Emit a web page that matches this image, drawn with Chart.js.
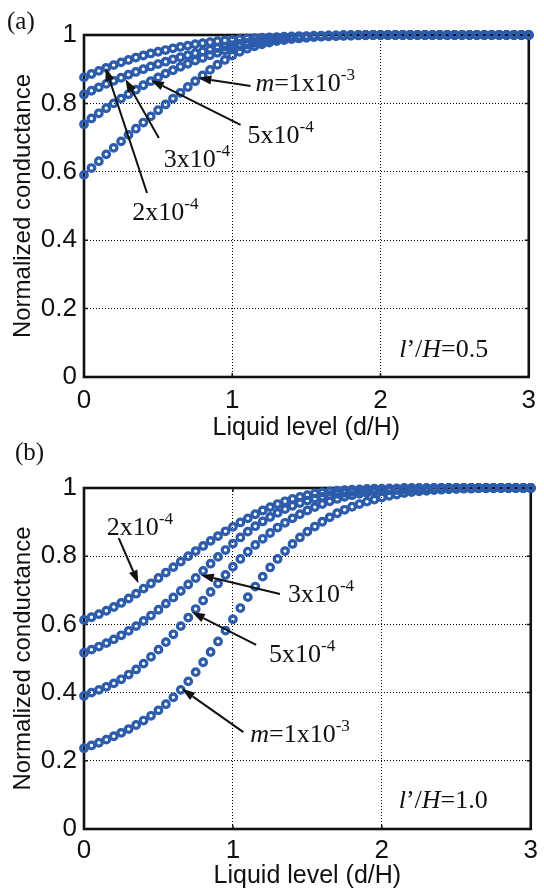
<!DOCTYPE html>
<html>
<head>
<meta charset="utf-8">
<script src="https://cdn.jsdelivr.net/npm/chart.js@4/dist/chart.umd.min.js"></script>
<style>
  html, body { margin: 0; padding: 0; background: #fff; }
  .wrap { position: relative; width: 544px; height: 894px; }
  #chartA { position: absolute; left: 0; top: 0; }
  #chartB { position: absolute; left: 0; top: 440px; }
</style>
</head>
<body>
<div class="wrap">
<canvas id="chartA" width="544" height="450"></canvas>
<canvas id="chartB" width="544" height="454"></canvas>
</div>
<script>
// Liquid level d/H, one point every 0.05
const XS = [
  0.00, 0.05, 0.10, 0.15, 0.20, 0.25, 0.30, 0.35, 0.40, 0.45,
  0.50, 0.55, 0.60, 0.65, 0.70, 0.75, 0.80, 0.85, 0.90, 0.95,
  1.00, 1.05, 1.10, 1.15, 1.20, 1.25, 1.30, 1.35, 1.40, 1.45,
  1.50, 1.55, 1.60, 1.65, 1.70, 1.75, 1.80, 1.85, 1.90, 1.95,
  2.00, 2.05, 2.10, 2.15, 2.20, 2.25, 2.30, 2.35, 2.40, 2.45,
  2.50, 2.55, 2.60, 2.65, 2.70, 2.75, 2.80, 2.85, 2.90, 2.95,
  3.00
];

// (a) l'/H = 0.5
const A_M2E4 = [
  0.876, 0.886, 0.895, 0.904, 0.912, 0.920, 0.927, 0.934, 0.940, 0.946,
  0.951, 0.956, 0.961, 0.965, 0.969, 0.973, 0.976, 0.979, 0.982, 0.984,
  0.986, 0.988, 0.990, 0.991, 0.992, 0.993, 0.994, 0.995, 0.996, 0.997,
  0.997, 0.998, 0.998, 0.999, 0.999, 1.000, 1.000, 1.000, 1.000, 1.000,
  1.000, 1.000, 1.000, 1.000, 1.000, 1.000, 1.000, 1.000, 1.000, 1.000,
  1.000, 1.000, 1.000, 1.000, 1.000, 1.000, 1.000, 1.000, 1.000, 1.000,
  1.000
];
const A_M3E4 = [
  0.826, 0.837, 0.847, 0.857, 0.866, 0.875, 0.884, 0.892, 0.900, 0.908,
  0.915, 0.922, 0.929, 0.935, 0.941, 0.947, 0.952, 0.957, 0.962, 0.966,
  0.970, 0.974, 0.977, 0.980, 0.983, 0.986, 0.988, 0.990, 0.992, 0.993,
  0.994, 0.995, 0.996, 0.997, 0.998, 0.998, 0.999, 0.999, 1.000, 1.000,
  1.000, 1.000, 1.000, 1.000, 1.000, 1.000, 1.000, 1.000, 1.000, 1.000,
  1.000, 1.000, 1.000, 1.000, 1.000, 1.000, 1.000, 1.000, 1.000, 1.000,
  1.000
];
const A_M5E4 = [
  0.739, 0.756, 0.771, 0.786, 0.800, 0.814, 0.827, 0.840, 0.853, 0.865,
  0.876, 0.887, 0.897, 0.907, 0.916, 0.925, 0.933, 0.941, 0.948, 0.955,
  0.961, 0.967, 0.972, 0.977, 0.981, 0.985, 0.988, 0.990, 0.992, 0.994,
  0.995, 0.996, 0.997, 0.998, 0.998, 0.999, 0.999, 1.000, 1.000, 1.000,
  1.000, 1.000, 1.000, 1.000, 1.000, 1.000, 1.000, 1.000, 1.000, 1.000,
  1.000, 1.000, 1.000, 1.000, 1.000, 1.000, 1.000, 1.000, 1.000, 1.000,
  1.000
];
const A_M1E3 = [
  0.591, 0.611, 0.631, 0.651, 0.670, 0.689, 0.708, 0.726, 0.744, 0.762,
  0.780, 0.797, 0.814, 0.831, 0.848, 0.865, 0.882, 0.898, 0.913, 0.927,
  0.940, 0.951, 0.960, 0.967, 0.973, 0.978, 0.982, 0.985, 0.988, 0.990,
  0.992, 0.994, 0.995, 0.996, 0.997, 0.998, 0.998, 0.999, 0.999, 1.000,
  1.000, 1.000, 1.000, 1.000, 1.000, 1.000, 1.000, 1.000, 1.000, 1.000,
  1.000, 1.000, 1.000, 1.000, 1.000, 1.000, 1.000, 1.000, 1.000, 1.000,
  1.000
];

// (b) l'/H = 1.0
const B_M2E4 = [
  0.613, 0.621, 0.630, 0.640, 0.651, 0.663, 0.676, 0.690, 0.705, 0.720,
  0.736, 0.752, 0.768, 0.784, 0.800, 0.815, 0.830, 0.845, 0.859, 0.873,
  0.886, 0.899, 0.911, 0.923, 0.934, 0.944, 0.953, 0.961, 0.968, 0.974,
  0.979, 0.984, 0.987, 0.990, 0.992, 0.994, 0.995, 0.996, 0.997, 0.998,
  0.998, 0.999, 0.999, 1.000, 1.000, 1.000, 1.000, 1.000, 1.000, 1.000,
  1.000, 1.000, 1.000, 1.000, 1.000, 1.000, 1.000, 1.000, 1.000, 1.000,
  1.000
];
const B_M3E4 = [
  0.517, 0.526, 0.535, 0.545, 0.556, 0.568, 0.581, 0.595, 0.610, 0.626,
  0.643, 0.661, 0.679, 0.698, 0.717, 0.736, 0.757, 0.778, 0.798, 0.818,
  0.837, 0.855, 0.872, 0.888, 0.902, 0.915, 0.927, 0.938, 0.948, 0.956,
  0.963, 0.969, 0.974, 0.979, 0.983, 0.986, 0.989, 0.991, 0.993, 0.994,
  0.995, 0.996, 0.997, 0.998, 0.998, 0.999, 0.999, 1.000, 1.000, 1.000,
  1.000, 1.000, 1.000, 1.000, 1.000, 1.000, 1.000, 1.000, 1.000, 1.000,
  1.000
];
const B_M5E4 = [
  0.390, 0.400, 0.408, 0.417, 0.427, 0.439, 0.453, 0.468, 0.485, 0.505,
  0.526, 0.548, 0.571, 0.595, 0.620, 0.645, 0.670, 0.695, 0.720, 0.745,
  0.769, 0.792, 0.813, 0.833, 0.851, 0.868, 0.884, 0.898, 0.911, 0.923,
  0.934, 0.944, 0.953, 0.961, 0.968, 0.974, 0.979, 0.983, 0.986, 0.989,
  0.991, 0.993, 0.994, 0.995, 0.996, 0.997, 0.998, 0.998, 0.999, 0.999,
  1.000, 1.000, 1.000, 1.000, 1.000, 1.000, 1.000, 1.000, 1.000, 1.000,
  1.000
];
const B_M1E3 = [
  0.237, 0.245, 0.253, 0.262, 0.272, 0.282, 0.293, 0.305, 0.318, 0.332,
  0.348, 0.366, 0.386, 0.408, 0.433, 0.460, 0.489, 0.519, 0.550, 0.582,
  0.615, 0.648, 0.680, 0.711, 0.740, 0.767, 0.792, 0.815, 0.836, 0.855,
  0.872, 0.887, 0.901, 0.914, 0.926, 0.936, 0.945, 0.953, 0.960, 0.966,
  0.972, 0.977, 0.981, 0.985, 0.988, 0.990, 0.992, 0.994, 0.995, 0.996,
  0.997, 0.998, 0.998, 0.999, 0.999, 1.000, 1.000, 1.000, 1.000, 1.000,
  1.000
];

const X_TICKS_STEP = 1;
const Y_TICKS_STEP = 0.2;
const X_TITLE = 'Liquid level (d/H)';
const Y_TITLE = 'Normalized conductance';

const BLUE = '#2c5cab';
const INK = '#111';
const SANS = '"Liberation Sans", Arial, sans-serif';
const SERIF = '"Liberation Serif", "Times New Roman", serif';

// annotations, in data coordinates; parts: [text, style] with i = italic, s = superscript
const DECOR = {
  chartA: {
    panel: { text: '(a)', x: 7, y: 29 },
    labels: [
      { parts: [['m', 'i'], ['=1x10', ''], ['-3', 's']], x: 1.156, y: 0.836 },
      { parts: [['5x10', ''], ['-4', 's']], x: 1.103, y: 0.684 },
      { parts: [['3x10', ''], ['-4', 's']], x: 0.538, y: 0.614 },
      { parts: [['2x10', ''], ['-4', 's']], x: 0.326, y: 0.459 },
      { parts: [['l', 'i'], ['\u2019/', ''], ['H', 'i'], ['=0.5', '']], x: 2.126, y: 0.058 },
    ],
    arrows: [
      [1.123, 0.851, 0.771, 0.874],
      [1.056, 0.737, 0.452, 0.868],
      [0.505, 0.699, 0.279, 0.871],
      [0.425, 0.538, 0.146, 0.904],
    ],
  },
  chartB: {
    panel: { text: '(b)', x: 15, y: 20 },
    labels: [
      { parts: [['2x10', ''], ['-4', 's']], x: 0.153, y: 0.862 },
      { parts: [['3x10', ''], ['-4', 's']], x: 1.369, y: 0.666 },
      { parts: [['5x10', ''], ['-4', 's']], x: 1.243, y: 0.490 },
      { parts: [['m', 'i'], ['=1x10', ''], ['-3', 's']], x: 1.116, y: 0.255 },
      { parts: [['l', 'i'], ['\u2019/', ''], ['H', 'i'], ['=1.0', '']], x: 2.113, y: 0.062 },
    ],
    arrows: [
      [0.233, 0.853, 0.365, 0.721],
      [1.316, 0.689, 0.784, 0.745],
      [1.156, 0.540, 0.724, 0.636],
      [1.070, 0.284, 0.658, 0.411],
    ],
  },
};

function drawRich(ctx, parts, x, y, size) {
  let cx = x;
  ctx.textBaseline = 'alphabetic';
  ctx.textAlign = 'left';
  parts.forEach(([t, s]) => {
    const fs = s === 's' ? size * 0.66 : size;
    ctx.font = `${s === 'i' ? 'italic ' : ''}${fs}px ${SERIF}`;
    ctx.fillText(t, cx, s === 's' ? y - size * 0.42 : y);
    cx += ctx.measureText(t).width;
  });
}

function drawArrow(ctx, x1, y1, x2, y2) {
  const ang = Math.atan2(y2 - y1, x2 - x1);
  const len = 13, half = 4.5;
  const bx = x2 - len * Math.cos(ang), by = y2 - len * Math.sin(ang);
  ctx.lineWidth = 2;
  ctx.beginPath();
  ctx.moveTo(x1, y1);
  ctx.lineTo(bx, by);
  ctx.stroke();
  ctx.beginPath();
  ctx.moveTo(x2, y2);
  ctx.lineTo(bx + half * Math.sin(ang), by - half * Math.cos(ang));
  ctx.lineTo(bx - half * Math.sin(ang), by + half * Math.cos(ang));
  ctx.closePath();
  ctx.fill();
}

const decorPlugin = {
  id: 'decor',
  beforeDatasetsDraw(chart) {
    const { ctx, chartArea: a, scales: { x, y } } = chart;
    ctx.save();
    ctx.strokeStyle = INK;
    ctx.lineWidth = 2.6;
    ctx.strokeRect(a.left, a.top, a.right - a.left, a.bottom - a.top);
    ctx.lineWidth = 1.5;
    ctx.beginPath();
    x.ticks.forEach((t) => {
      const px = x.getPixelForValue(t.value);
      ctx.moveTo(px, a.bottom); ctx.lineTo(px, a.bottom - 4);
      ctx.moveTo(px, a.top); ctx.lineTo(px, a.top + 4);
    });
    y.ticks.forEach((t) => {
      const py = y.getPixelForValue(t.value);
      ctx.moveTo(a.left, py); ctx.lineTo(a.left + 4, py);
      ctx.moveTo(a.right, py); ctx.lineTo(a.right - 4, py);
    });
    ctx.stroke();
    ctx.restore();
  },
  afterDatasetsDraw(chart) {
    const cfg = DECOR[chart.canvas.id];
    if (!cfg) return;
    const { ctx, scales: { x, y } } = chart;
    ctx.save();
    ctx.fillStyle = INK;
    ctx.strokeStyle = INK;
    cfg.arrows.forEach(([x1, y1, x2, y2]) => {
      drawArrow(ctx, x.getPixelForValue(x1), y.getPixelForValue(y1), x.getPixelForValue(x2), y.getPixelForValue(y2));
    });
    cfg.labels.forEach((l) => {
      drawRich(ctx, l.parts, x.getPixelForValue(l.x), y.getPixelForValue(l.y), 26);
    });
    drawRich(ctx, [[cfg.panel.text, '']], cfg.panel.x, cfg.panel.y, 25);
    ctx.restore();
  },
};

function makeChart(id, series, lay) {
  const canvas = document.getElementById(id);
  return new Chart(canvas, {
    type: 'scatter',
    data: {
      datasets: series.map((ys) => ({
        data: XS.map((x, i) => ({ x, y: ys[i] })),
        showLine: false,
        clip: false,
        pointRadius: 3.3,
        pointBorderWidth: 3.2,
        pointBorderColor: BLUE,
        pointBackgroundColor: 'rgba(0,0,0,0)',
      })),
    },
    options: {
      responsive: false,
      animation: false,
      events: [],
      layout: { padding: { left: 0, right: 9, top: lay.top, bottom: 0 } },
      plugins: { legend: { display: false }, tooltip: { enabled: false } },
      scales: {
        x: {
          type: 'linear',
          min: 0,
          max: 3,
          afterFit: (s) => { s.height = lay.xAxisH; },
          ticks: { stepSize: X_TICKS_STEP, padding: lay.xTickPad, maxRotation: 0, color: INK, font: { size: 26, family: SANS } },
          grid: { color: '#000', lineWidth: 1, drawTicks: false },
          border: { display: false, dash: [1, 2] },
          title: { display: true, text: X_TITLE, color: INK, font: { size: 25, family: SANS }, padding: { top: 0, bottom: lay.xTitlePad } },
        },
        y: {
          min: 0,
          max: 1,
          afterFit: (s) => { s.width = 84; },
          ticks: {
            stepSize: Y_TICKS_STEP,
            padding: 7,
            color: INK,
            font: { size: 26, family: SANS },
            callback: (v) => String(Math.round(v * 10) / 10),
          },
          grid: { color: '#000', lineWidth: 1, drawTicks: false },
          border: { display: false, dash: [1, 2] },
          title: { display: true, text: Y_TITLE, color: INK, font: { size: 24, family: SANS }, padding: { top: 9, bottom: 0 } },
        },
      },
    },
    plugins: [decorPlugin],
  });
}

makeChart('chartA', [A_M2E4, A_M3E4, A_M5E4, A_M1E3], { top: 35, xAxisH: 73, xTickPad: 8, xTitlePad: 7 });
makeChart('chartB', [B_M2E4, B_M3E4, B_M5E4, B_M1E3], { top: 48, xAxisH: 65, xTickPad: 6, xTitlePad: 3 });
</script>
</body>
</html>
